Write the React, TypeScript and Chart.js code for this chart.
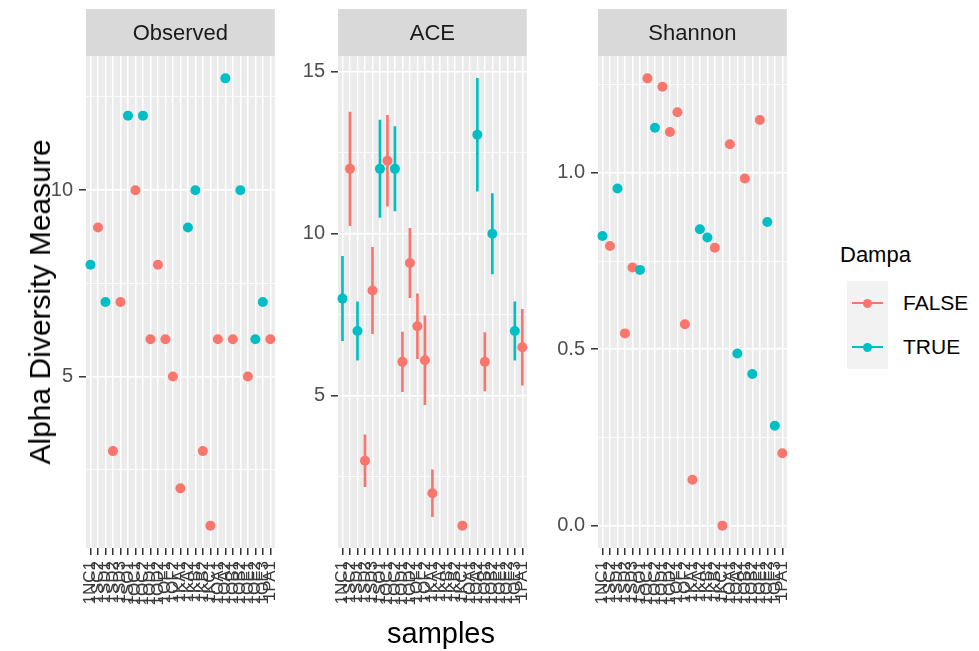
import React, { useEffect, useRef } from "react";
import { Chart, registerables } from "chart.js";

Chart.register(...registerables);

// ---------------- data ----------------
const samples = [
  "1NC1", "1SC2", "1SD1", "1SD2", "1SD3", "1SO1", "1OC1", "1OC2", "1OD1", "1OD2",
  "1OF1", "1OF2", "1KA1", "1KA2", "1KB1", "1KB2", "1KC1", "1OA1", "1OA2", "1OB1",
  "1OB2", "1OE1", "1OE2", "1OE3", "1PA1",
];
const dampa = [
  true, false, true, false, false, true, false, true, false, false,
  false, false, false, true, true, false, false, false, true, false,
  true, false, true, true, false,
];
const observed = [8, 9, 7, 3, 7, 12, 10, 12, 6, 8, 6, 5, 2, 9, 10, 3, 1, 6, 13, 6, 10, 5, 6, 7, 6];
const ace = [
  8, 12, 7, 3, 8.25, 12, 12.25, 12, 6.05, 9.1,
  7.15, 6.1, 2, null, null, null, 1, null, 13.05, 6.05,
  10, null, null, 7, 6.5,
];
const aceSe = [
  1.3, 1.75, 0.9, 0.8, 1.33, 1.5, 1.4, 1.3, 0.92, 1.07,
  1.0, 1.37, 0.72, null, null, null, 0, null, 1.74, 0.9,
  1.24, null, null, 0.9, 1.17,
];
const shannon = [
  0.821, 0.793, 0.956, 0.545, 0.732, 0.725, 1.268, 1.128, 1.244, 1.116,
  1.172, 0.571, 0.13, 0.84, 0.817, 0.788, 0.0, 1.081, 0.488, 0.984,
  0.43, 1.15, 0.861, 0.283, 0.205,
];

const observedTicks = [5, 10];
const observedMinor = [2.5, 7.5, 12.5];
const aceTicks = [5, 10, 15];
const aceMinor = [2.5, 7.5, 12.5];
const shannonTicks = [0, 0.5, 1.0];
const shannonMinor = [0.25, 0.75, 1.25];
const legendLabels = ["FALSE", "TRUE"];
const legendTitle = "Dampa";
const yTitle = "Alpha Diversity Measure";
const xTitle = "samples";

// ---------------- style ----------------
const RED = "#F8766D";
const TEAL = "#00BFC4";
const FONT = "'Liberation Sans', Arial, sans-serif";
const CANVAS_H = 651;
const PLOT_TOP = 56;
const PLOT_BOTTOM = 548;
const STRIP_TOP = 9;
const PANEL_W = 199;
const RIGHT_PAD = 12;

const colorOf = (d: boolean) => (d ? TEAL : RED);

const panelPlugin = {
  id: "panelBg",
  beforeDraw(chart: any, _args: any, opts: any) {
    const { ctx, chartArea: a } = chart;
    ctx.save();
    ctx.fillStyle = "#EBEBEB";
    ctx.fillRect(a.left, a.top, a.right - a.left, a.bottom - a.top);
    ctx.fillStyle = "#D9D9D9";
    ctx.fillRect(a.left, STRIP_TOP, a.right - a.left, a.top - STRIP_TOP);
    ctx.fillStyle = "#1A1A1A";
    ctx.font = `22px ${FONT}`;
    ctx.textAlign = "center";
    ctx.textBaseline = "middle";
    ctx.fillText(opts.label, (a.left + a.right) / 2, (STRIP_TOP + a.top) / 2 + 1);
    ctx.restore();
  },
};

type Panel = {
  title: string;
  values: (number | null)[];
  se?: (number | null)[];
  major: number[];
  minor: number[];
  fmt: (v: number) => string;
  plotLeft: number;
  yWidth: number;
};

const panels: Panel[] = [
  { title: "Observed", values: observed, major: observedTicks, minor: observedMinor, fmt: (v) => String(v), plotLeft: 86, yWidth: 86 },
  { title: "ACE", values: ace, se: aceSe, major: aceTicks, minor: aceMinor, fmt: (v) => String(v), plotLeft: 338, yWidth: 52 },
  { title: "Shannon", values: shannon, major: shannonTicks, minor: shannonMinor, fmt: (v) => v.toFixed(1), plotLeft: 598, yWidth: 60 },
];

function valueRange(p: Panel): [number, number] {
  let lo = Infinity;
  let hi = -Infinity;
  p.values.forEach((v, i) => {
    if (v == null) return;
    const e = p.se ? p.se[i] ?? 0 : 0;
    lo = Math.min(lo, v - e);
    hi = Math.max(hi, v + e);
  });
  const pad = (hi - lo) * 0.05;
  return [lo - pad, hi + pad];
}

const isMajor = (p: Panel, v: number) => p.major.some((m) => Math.abs(m - v) < 1e-9);

function buildConfig(p: Panel): any {
  const [ymin, ymax] = valueRange(p);
  const pts: any[] = [];
  const ptColors: string[] = [];
  const bars: any[] = [];
  const barColors: string[] = [];
  p.values.forEach((v, i) => {
    if (v == null) return;
    pts.push({ x: i, y: v });
    ptColors.push(colorOf(dampa[i]));
    if (p.se && p.se[i] != null && (p.se[i] as number) > 0) {
      const e = p.se[i] as number;
      bars.push({ x: i, y: [v - e, v + e] });
      barColors.push(colorOf(dampa[i]));
    }
  });
  const datasets: any[] = [
    {
      type: "scatter",
      data: pts,
      pointRadius: 5,
      pointHoverRadius: 5,
      pointBorderWidth: 0,
      pointBackgroundColor: ptColors,
      pointBorderColor: ptColors,
      clip: false,
    },
  ];
  if (bars.length) {
    datasets.push({
      type: "bar",
      data: bars,
      backgroundColor: barColors,
      borderWidth: 0,
      barThickness: 2,
      maxBarThickness: 2,
    });
  }
  const allY = [...p.minor, ...p.major].sort((a, b) => a - b);
  return {
    type: "scatter",
    data: { datasets },
    plugins: [panelPlugin],
    options: {
      responsive: false,
      animation: false,
      events: [],
      layout: { padding: { top: PLOT_TOP, right: RIGHT_PAD, left: 0, bottom: 0 } },
      plugins: {
        legend: { display: false },
        tooltip: { enabled: false },
        panelBg: { label: p.title },
      },
      scales: {
        x: {
          type: "linear",
          min: -0.6,
          max: samples.length - 1 + 0.6,
          offset: false,
          afterBuildTicks: (s: any) => {
            s.ticks = samples.map((_, i) => ({ value: i }));
          },
          afterFit: (s: any) => {
            s.height = CANVAS_H - PLOT_BOTTOM;
          },
          grid: {
            offset: false,
            color: "#FFFFFF",
            lineWidth: 1.5,
            tickColor: "#333333",
            tickWidth: 1.5,
            tickLength: 7,
          },
          border: { display: false },
          ticks: {
            autoSkip: false,
            maxRotation: 90,
            minRotation: 90,
            padding: 6,
            color: "#3A3A3A",
            font: { family: FONT, size: 17 },
            callback: (v: number) => samples[Math.round(v)] ?? "",
          },
        },
        y: {
          type: "linear",
          min: ymin,
          max: ymax,
          beginAtZero: false,
          afterBuildTicks: (s: any) => {
            s.ticks = allY.map((v) => ({ value: v }));
          },
          afterFit: (s: any) => {
            s.width = p.yWidth;
          },
          grid: {
            color: "#FFFFFF",
            lineWidth: (c: any) => (c.tick && isMajor(p, c.tick.value) ? 1.6 : 0.8),
            tickColor: (c: any) => (c.tick && isMajor(p, c.tick.value) ? "#333333" : "rgba(0,0,0,0)"),
            tickWidth: 1.5,
            tickLength: 7,
          },
          border: { display: false },
          ticks: {
            autoSkip: false,
            padding: 6,
            color: "#4D4D4D",
            font: { family: FONT, size: 20 },
            callback: (v: number) => (isMajor(p, v) ? p.fmt(v) : ""),
          },
        },
      },
    },
  };
}

export default function App() {
  const refs = [useRef<HTMLCanvasElement>(null), useRef<HTMLCanvasElement>(null), useRef<HTMLCanvasElement>(null)];

  useEffect(() => {
    const charts: Chart[] = [];
    panels.forEach((p, k) => {
      const c = refs[k].current;
      if (c) charts.push(new Chart(c, buildConfig(p)));
    });
    return () => charts.forEach((c) => c.destroy());
  }, []);

  const keyCenters = [303, 347];

  return (
    <div style={{ position: "absolute", left: 0, top: 0, width: 979, height: 651, background: "#FFFFFF", fontFamily: FONT, overflow: "hidden" }}>
      {panels.map((p, k) => (
        <canvas
          key={p.title}
          ref={refs[k]}
          width={p.yWidth + PANEL_W + RIGHT_PAD}
          height={CANVAS_H}
          style={{ position: "absolute", left: p.plotLeft - p.yWidth, top: 0, width: p.yWidth + PANEL_W + RIGHT_PAD, height: CANVAS_H }}
        />
      ))}
      <div
        style={{
          position: "absolute",
          left: 40,
          top: (PLOT_TOP + PLOT_BOTTOM) / 2,
          transform: "translate(-50%, -50%) rotate(-90deg)",
          whiteSpace: "nowrap",
          fontSize: 30,
          color: "#000000",
          lineHeight: 1,
        }}
      >
        {yTitle}
      </div>
      <div
        style={{
          position: "absolute",
          left: 441,
          top: 633,
          transform: "translate(-50%, -50%)",
          whiteSpace: "nowrap",
          fontSize: 29,
          color: "#000000",
          lineHeight: 1,
        }}
      >
        {xTitle}
      </div>
      <div style={{ position: "absolute", left: 840, top: 243, fontSize: 22, lineHeight: "24px", color: "#000000" }}>{legendTitle}</div>
      <div style={{ position: "absolute", left: 847, top: 281, width: 41, height: 88, background: "#F2F2F2" }} />
      {legendLabels.map((lab, k) => (
        <React.Fragment key={lab}>
          <div style={{ position: "absolute", left: 852, top: keyCenters[k] - 1, width: 31, height: 2, background: k === 0 ? RED : TEAL }} />
          <div
            style={{
              position: "absolute",
              left: 867.5 - 4.5,
              top: keyCenters[k] - 4.5,
              width: 9,
              height: 9,
              borderRadius: "50%",
              background: k === 0 ? RED : TEAL,
            }}
          />
          <div style={{ position: "absolute", left: 903, top: keyCenters[k] - 12, fontSize: 21, lineHeight: "24px", color: "#000000" }}>{lab}</div>
        </React.Fragment>
      ))}
    </div>
  );
}
